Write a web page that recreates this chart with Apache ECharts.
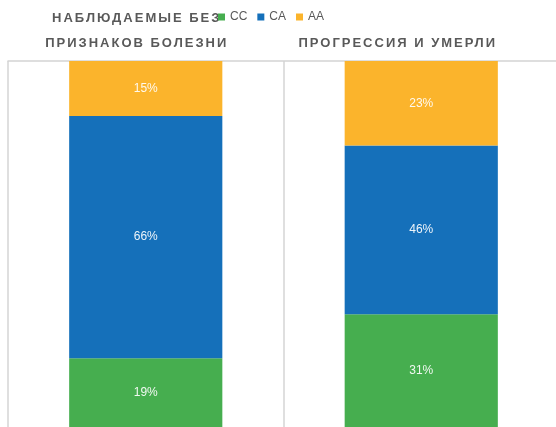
<!DOCTYPE html>
<html>
<head>
<meta charset="utf-8">
<script src="https://cdn.jsdelivr.net/npm/echarts@6/dist/echarts.min.js"></script>
<style>html,body{margin:0;padding:0;background:#fff}#c{width:556px;height:427px}</style>
</head>
<body>
<div id="c"></div>
<script>
const categories = ['НАБЛЮДАЕМЫЕ БЕЗ\nПРИЗНАКОВ БОЛЕЗНИ', 'ПРОГРЕССИЯ И УМЕРЛИ'];
const seriesNames = ['CC', 'CA', 'AA'];
const valuesCC = [19, 31];
const valuesCA = [66, 46];
const valuesAA = [15, 23];
const colors = ['#46ae4f', '#1570ba', '#fbb42c'];

// letter spacing for bold category labels (canvas text property)
const origFill = CanvasRenderingContext2D.prototype.fillText;
CanvasRenderingContext2D.prototype.fillText = function (t, x, y, m) {
  this.letterSpacing = /bold/.test(this.font) ? '2px' : '0px';
  return m === undefined ? origFill.call(this, t, x, y) : origFill.call(this, t, x, y, m);
};

const labelStyle = {color: '#595959', fontWeight: 'bold', fontSize: 13, fontFamily: 'Liberation Sans', lineHeight: 25};
const chart = echarts.init(document.getElementById('c'), null, {renderer: 'canvas'});
const dataSets = [valuesCC, valuesCA, valuesAA];
chart.setOption({
  animation: false,
  color: colors,
  legend: {
    left: 213, top: 6, itemWidth: 7, itemHeight: 7, itemGap: 10,
    icon: 'rect',
    textStyle: {color: '#595959', fontSize: 12, fontFamily: 'Liberation Sans'},
    data: seriesNames
  },
  grid: {left: 8, right: -3, top: 61, bottom: -1, containLabel: false, outerBoundsMode: 'none'},
  xAxis: {
    type: 'category', position: 'top', data: categories,
    axisLine: {show: true, onZero: false, lineStyle: {color: '#d4d4d4', width: 1.5}},
    axisTick: {show: false},
    splitLine: {show: true, lineStyle: {color: '#d4d4d4', width: 1.5}},
    axisLabel: {
      interval: 0, margin: 5, lineHeight: 25,
      formatter: (v, i) => v.split('\n').map(l => `{s${i}|${l}}`).join('\n'),
      rich: {
        s0: Object.assign({padding: [0, 18, 0, 0]}, labelStyle),
        s1: Object.assign({padding: [0, 47, 0, 0]}, labelStyle)
      }
    }
  },
  yAxis: {type: 'value', min: 0, max: 100, show: false, splitLine: {show: false}},
  series: seriesNames.map((n, i) => ({
    name: n, type: 'bar', stack: 'total', barWidth: '55.6%',
    data: dataSets[i],
    label: {show: true, position: 'inside', formatter: '{c}%', color: 'rgba(255,255,255,0.92)', fontSize: 12, fontFamily: 'Liberation Sans'}
  }))
});
</script>
</body>
</html>
